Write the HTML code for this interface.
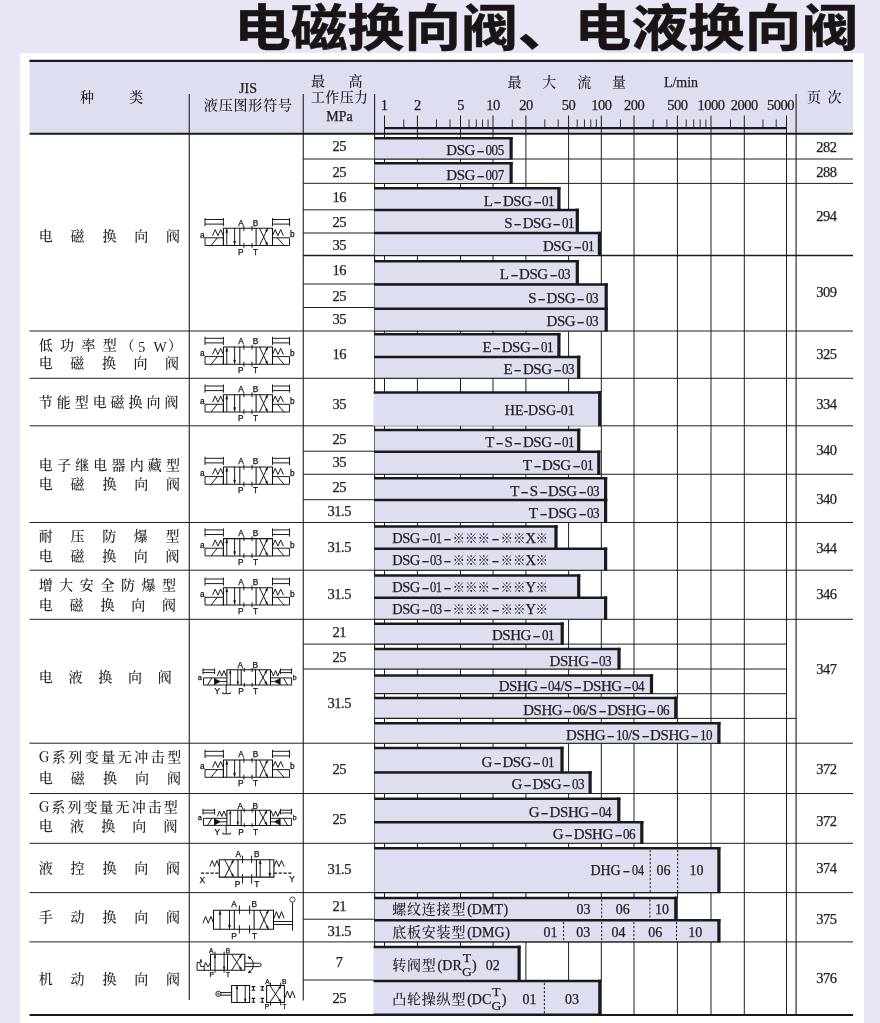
<!DOCTYPE html>
<html lang="zh-CN"><head><meta charset="utf-8"><title>电磁换向阀、电液换向阀</title>
<style>
html,body{margin:0;padding:0}
body{width:880px;height:1023px;background:#e6e6f4;position:relative;overflow:hidden;font-family:"Liberation Serif","Noto Serif CJK SC",serif;color:#222}
#panel{position:absolute;left:20px;top:53px;width:844px;height:970px;background:#fff}
#art{position:absolute;left:0;top:0}
#art text{font-family:"Liberation Sans",sans-serif;fill:#111;stroke:#111;stroke-width:0.25}
.t{position:absolute;white-space:nowrap;line-height:20px;height:20px;-webkit-text-stroke:0.25px #222}
.cj{font-family:"Noto Serif CJK SC","Liberation Serif",serif;font-weight:500;-webkit-text-stroke:0}
.cj2{font-family:"Liberation Serif","Noto Serif CJK SC",serif;letter-spacing:0}
.h{display:inline-block;transform:scaleX(1.55);margin:0 3.0px}
.d{display:inline-block;transform:scaleX(0.87)}
.st{font-family:"Noto Serif CJK SC",serif;font-size:12.5px;letter-spacing:0;margin:0;-webkit-text-stroke:0}
.pl{margin-left:1px;margin-right:0}.pr{margin-left:0.6px;margin-right:0}
.fr{display:inline-block;position:relative;width:9.5px;height:1px;vertical-align:baseline;font-size:13.5px;letter-spacing:0;margin:0 0 0 0.3px}
.fr span{position:absolute;left:0;width:100%;text-align:center;line-height:14px;height:14px}
.fr span:first-child{top:-17.9px}
.fr span:last-child{top:-3.3px}
.zh{letter-spacing:0.8px;font-weight:500;-webkit-text-stroke:0}
h1{position:absolute;left:233.5px;top:-11.3px;margin:0;font-family:"Noto Sans CJK SC","Liberation Sans",sans-serif;font-weight:700;-webkit-text-stroke:0.5px #1a1514;font-size:50px;line-height:70px;white-space:nowrap;color:#1a1514;transform-origin:0 0;transform:scaleX(1.135);letter-spacing:0}
</style></head><body>
<h1>电磁换向阀、电液换向阀</h1>
<div id="panel"></div>
<svg id="art" width="880" height="1023" viewBox="0 0 880 1023">
<rect x="29.50" y="60.50" width="823.50" height="73.30" fill="#dddef0"/>
<line x1="384.50" y1="115.50" x2="384.50" y2="1014.00" stroke="#1e1e1e" stroke-width="1" />
<line x1="417.40" y1="115.50" x2="417.40" y2="1014.00" stroke="#1e1e1e" stroke-width="1" />
<line x1="460.50" y1="115.50" x2="460.50" y2="1014.00" stroke="#1e1e1e" stroke-width="1" />
<line x1="493.00" y1="115.50" x2="493.00" y2="1014.00" stroke="#1e1e1e" stroke-width="1" />
<line x1="525.90" y1="115.50" x2="525.90" y2="1014.00" stroke="#1e1e1e" stroke-width="1" />
<line x1="568.60" y1="115.50" x2="568.60" y2="1014.00" stroke="#1e1e1e" stroke-width="1" />
<line x1="601.30" y1="115.50" x2="601.30" y2="1014.00" stroke="#1e1e1e" stroke-width="1" />
<line x1="634.00" y1="115.50" x2="634.00" y2="1014.00" stroke="#1e1e1e" stroke-width="1" />
<line x1="677.40" y1="115.50" x2="677.40" y2="1014.00" stroke="#1e1e1e" stroke-width="1" />
<line x1="711.00" y1="115.50" x2="711.00" y2="1014.00" stroke="#1e1e1e" stroke-width="1" />
<line x1="744.30" y1="115.50" x2="744.30" y2="1014.00" stroke="#1e1e1e" stroke-width="1" />
<line x1="786.50" y1="115.50" x2="786.50" y2="1014.00" stroke="#1e1e1e" stroke-width="1" />
<line x1="403.75" y1="119.50" x2="403.75" y2="128.00" stroke="#1e1e1e" stroke-width="0.9" />
<line x1="436.47" y1="119.50" x2="436.47" y2="128.00" stroke="#1e1e1e" stroke-width="0.9" />
<line x1="450.00" y1="119.50" x2="450.00" y2="128.00" stroke="#1e1e1e" stroke-width="0.9" />
<line x1="469.05" y1="119.50" x2="469.05" y2="128.00" stroke="#1e1e1e" stroke-width="0.9" />
<line x1="476.28" y1="119.50" x2="476.28" y2="128.00" stroke="#1e1e1e" stroke-width="0.9" />
<line x1="482.54" y1="119.50" x2="482.54" y2="128.00" stroke="#1e1e1e" stroke-width="0.9" />
<line x1="488.06" y1="119.50" x2="488.06" y2="128.00" stroke="#1e1e1e" stroke-width="0.9" />
<line x1="512.25" y1="119.50" x2="512.25" y2="128.00" stroke="#1e1e1e" stroke-width="0.9" />
<line x1="544.80" y1="119.50" x2="544.80" y2="128.00" stroke="#1e1e1e" stroke-width="0.9" />
<line x1="558.20" y1="119.50" x2="558.20" y2="128.00" stroke="#1e1e1e" stroke-width="0.9" />
<line x1="577.20" y1="119.50" x2="577.20" y2="128.00" stroke="#1e1e1e" stroke-width="0.9" />
<line x1="584.47" y1="119.50" x2="584.47" y2="128.00" stroke="#1e1e1e" stroke-width="0.9" />
<line x1="590.77" y1="119.50" x2="590.77" y2="128.00" stroke="#1e1e1e" stroke-width="0.9" />
<line x1="596.33" y1="119.50" x2="596.33" y2="128.00" stroke="#1e1e1e" stroke-width="0.9" />
<line x1="620.43" y1="119.50" x2="620.43" y2="128.00" stroke="#1e1e1e" stroke-width="0.9" />
<line x1="653.20" y1="119.50" x2="653.20" y2="128.00" stroke="#1e1e1e" stroke-width="0.9" />
<line x1="666.83" y1="119.50" x2="666.83" y2="128.00" stroke="#1e1e1e" stroke-width="0.9" />
<line x1="686.24" y1="119.50" x2="686.24" y2="128.00" stroke="#1e1e1e" stroke-width="0.9" />
<line x1="693.71" y1="119.50" x2="693.71" y2="128.00" stroke="#1e1e1e" stroke-width="0.9" />
<line x1="700.18" y1="119.50" x2="700.18" y2="128.00" stroke="#1e1e1e" stroke-width="0.9" />
<line x1="705.89" y1="119.50" x2="705.89" y2="128.00" stroke="#1e1e1e" stroke-width="0.9" />
<line x1="730.48" y1="119.50" x2="730.48" y2="128.00" stroke="#1e1e1e" stroke-width="0.9" />
<line x1="762.97" y1="119.50" x2="762.97" y2="128.00" stroke="#1e1e1e" stroke-width="0.9" />
<line x1="776.22" y1="119.50" x2="776.22" y2="128.00" stroke="#1e1e1e" stroke-width="0.9" />
<line x1="384.00" y1="128.10" x2="787.00" y2="128.10" stroke="#1a1a1a" stroke-width="2.2" />
<line x1="189.25" y1="94.00" x2="189.25" y2="1000.00" stroke="#1e1e1e" stroke-width="1.1" />
<line x1="303.25" y1="94.00" x2="303.25" y2="1000.50" stroke="#1e1e1e" stroke-width="1.1" />
<line x1="374.60" y1="94.00" x2="374.60" y2="960.00" stroke="#1e1e1e" stroke-width="1.1" />
<line x1="796.10" y1="94.00" x2="796.10" y2="1014.00" stroke="#1e1e1e" stroke-width="1.1" />
<line x1="29.50" y1="331.00" x2="853.00" y2="331.00" stroke="#1e1e1e" stroke-width="1" />
<line x1="29.50" y1="378.30" x2="853.00" y2="378.30" stroke="#1e1e1e" stroke-width="1" />
<line x1="29.50" y1="425.80" x2="853.00" y2="425.80" stroke="#1e1e1e" stroke-width="1" />
<line x1="29.50" y1="522.50" x2="853.00" y2="522.50" stroke="#1e1e1e" stroke-width="1" />
<line x1="29.50" y1="570.20" x2="853.00" y2="570.20" stroke="#1e1e1e" stroke-width="1" />
<line x1="29.50" y1="619.30" x2="853.00" y2="619.30" stroke="#1e1e1e" stroke-width="1" />
<line x1="29.50" y1="743.20" x2="853.00" y2="743.20" stroke="#1e1e1e" stroke-width="1" />
<line x1="29.50" y1="793.50" x2="853.00" y2="793.50" stroke="#1e1e1e" stroke-width="1" />
<line x1="29.50" y1="843.30" x2="853.00" y2="843.30" stroke="#1e1e1e" stroke-width="1" />
<line x1="29.50" y1="892.60" x2="853.00" y2="892.60" stroke="#1e1e1e" stroke-width="1" />
<line x1="29.50" y1="941.90" x2="853.00" y2="941.90" stroke="#1e1e1e" stroke-width="1" />
<line x1="303.25" y1="255.50" x2="853.00" y2="255.50" stroke="#1a1a1a" stroke-width="1.6" />
<line x1="303.25" y1="474.30" x2="853.00" y2="474.30" stroke="#1e1e1e" stroke-width="1.1" />
<line x1="303.25" y1="159.00" x2="374.60" y2="159.00" stroke="#1e1e1e" stroke-width="1" />
<line x1="303.25" y1="183.30" x2="374.60" y2="183.30" stroke="#1e1e1e" stroke-width="1" />
<line x1="303.25" y1="209.80" x2="374.60" y2="209.80" stroke="#1e1e1e" stroke-width="1" />
<line x1="303.25" y1="233.00" x2="374.60" y2="233.00" stroke="#1e1e1e" stroke-width="1" />
<line x1="303.25" y1="284.00" x2="374.60" y2="284.00" stroke="#1e1e1e" stroke-width="1" />
<line x1="303.25" y1="307.50" x2="374.60" y2="307.50" stroke="#1e1e1e" stroke-width="1" />
<line x1="303.25" y1="451.20" x2="374.60" y2="451.20" stroke="#1e1e1e" stroke-width="1" />
<line x1="303.25" y1="499.70" x2="374.60" y2="499.70" stroke="#1e1e1e" stroke-width="1" />
<line x1="303.25" y1="644.10" x2="374.60" y2="644.10" stroke="#1e1e1e" stroke-width="1" />
<line x1="303.25" y1="669.00" x2="374.60" y2="669.00" stroke="#1e1e1e" stroke-width="1" />
<line x1="303.25" y1="919.20" x2="374.60" y2="919.20" stroke="#1e1e1e" stroke-width="1" />
<line x1="303.25" y1="980.00" x2="374.60" y2="980.00" stroke="#1e1e1e" stroke-width="1" />
<line x1="374.60" y1="159.00" x2="853.00" y2="159.00" stroke="#1e1e1e" stroke-width="1" />
<line x1="374.60" y1="183.40" x2="853.00" y2="183.40" stroke="#1e1e1e" stroke-width="1" />
<line x1="374.60" y1="644.10" x2="786.50" y2="644.10" stroke="#1e1e1e" stroke-width="1" />
<line x1="374.60" y1="669.00" x2="786.50" y2="669.00" stroke="#1e1e1e" stroke-width="1" />
<line x1="374.60" y1="693.70" x2="786.50" y2="693.70" stroke="#1e1e1e" stroke-width="1" />
<line x1="374.60" y1="718.40" x2="796.10" y2="718.40" stroke="#1e1e1e" stroke-width="1" />
<rect x="374.60" y="138.20" width="138.10" height="20.80" fill="#dddef0"/>
<rect x="374.60" y="163.20" width="138.10" height="20.30" fill="#dddef0"/>
<rect x="374.60" y="188.20" width="185.90" height="21.60" fill="#dddef0"/>
<rect x="374.60" y="209.80" width="204.30" height="23.20" fill="#dddef0"/>
<rect x="374.60" y="233.00" width="226.40" height="22.50" fill="#dddef0"/>
<rect x="374.60" y="261.20" width="204.30" height="22.80" fill="#dddef0"/>
<rect x="374.60" y="284.50" width="233.20" height="24.10" fill="#dddef0"/>
<rect x="374.60" y="308.60" width="233.20" height="22.40" fill="#dddef0"/>
<rect x="374.60" y="334.10" width="185.90" height="22.70" fill="#dddef0"/>
<rect x="374.60" y="356.80" width="205.70" height="21.50" fill="#dddef0"/>
<rect x="373.60" y="392.30" width="227.70" height="33.50" fill="#dddef0"/>
<rect x="374.60" y="429.80" width="205.70" height="21.90" fill="#dddef0"/>
<rect x="374.60" y="451.70" width="225.80" height="22.60" fill="#dddef0"/>
<rect x="374.60" y="478.20" width="232.60" height="21.80" fill="#dddef0"/>
<rect x="374.60" y="500.00" width="232.60" height="22.50" fill="#dddef0"/>
<rect x="374.60" y="526.30" width="183.00" height="22.40" fill="#dddef0"/>
<rect x="374.60" y="548.70" width="232.60" height="21.50" fill="#dddef0"/>
<rect x="374.60" y="575.30" width="205.70" height="22.30" fill="#dddef0"/>
<rect x="374.60" y="597.60" width="232.60" height="21.70" fill="#dddef0"/>
<rect x="374.60" y="623.60" width="189.20" height="20.50" fill="#dddef0"/>
<rect x="374.60" y="649.00" width="246.00" height="20.00" fill="#dddef0"/>
<rect x="374.60" y="675.40" width="278.50" height="18.10" fill="#dddef0"/>
<rect x="374.60" y="697.90" width="302.80" height="20.50" fill="#dddef0"/>
<rect x="374.60" y="723.10" width="345.90" height="20.10" fill="#dddef0"/>
<rect x="374.60" y="747.90" width="189.00" height="24.40" fill="#dddef0"/>
<rect x="374.60" y="772.30" width="217.10" height="21.20" fill="#dddef0"/>
<rect x="374.60" y="798.70" width="245.80" height="23.50" fill="#dddef0"/>
<rect x="374.60" y="822.20" width="268.80" height="21.10" fill="#dddef0"/>
<rect x="374.60" y="848.20" width="345.90" height="44.40" fill="#dddef0"/>
<rect x="374.60" y="897.90" width="302.80" height="22.30" fill="#dddef0"/>
<rect x="374.60" y="920.20" width="345.90" height="21.70" fill="#dddef0"/>
<rect x="373.60" y="946.80" width="147.10" height="33.80" fill="#dddef0"/>
<rect x="373.60" y="981.00" width="227.80" height="33.00" fill="#dddef0"/>
<line x1="374.10" y1="159.00" x2="512.70" y2="159.00" stroke="#1e1e1e" stroke-width="1.1" />
<line x1="374.10" y1="138.30" x2="512.70" y2="138.30" stroke="#1a1a1a" stroke-width="2.5" />
<line x1="511.10" y1="137.00" x2="511.10" y2="159.50" stroke="#1a1a1a" stroke-width="3.2" />
<line x1="374.10" y1="183.50" x2="512.70" y2="183.50" stroke="#1e1e1e" stroke-width="1.1" />
<line x1="374.10" y1="163.30" x2="512.70" y2="163.30" stroke="#1a1a1a" stroke-width="2.5" />
<line x1="511.10" y1="162.00" x2="511.10" y2="184.00" stroke="#1a1a1a" stroke-width="3.2" />
<line x1="374.10" y1="209.80" x2="560.50" y2="209.80" stroke="#1e1e1e" stroke-width="1.1" />
<line x1="374.10" y1="188.30" x2="560.50" y2="188.30" stroke="#1a1a1a" stroke-width="2.5" />
<line x1="558.90" y1="187.00" x2="558.90" y2="210.30" stroke="#1a1a1a" stroke-width="3.2" />
<line x1="374.10" y1="233.00" x2="578.90" y2="233.00" stroke="#1e1e1e" stroke-width="1.1" />
<line x1="374.10" y1="209.90" x2="578.90" y2="209.90" stroke="#1a1a1a" stroke-width="2.5" />
<line x1="577.30" y1="208.60" x2="577.30" y2="233.50" stroke="#1a1a1a" stroke-width="3.2" />
<line x1="374.10" y1="255.50" x2="601.00" y2="255.50" stroke="#1e1e1e" stroke-width="1.1" />
<line x1="374.10" y1="233.10" x2="601.00" y2="233.10" stroke="#1a1a1a" stroke-width="2.5" />
<line x1="599.40" y1="231.80" x2="599.40" y2="256.00" stroke="#1a1a1a" stroke-width="3.2" />
<line x1="374.10" y1="284.00" x2="578.90" y2="284.00" stroke="#1e1e1e" stroke-width="1.1" />
<line x1="374.10" y1="261.30" x2="578.90" y2="261.30" stroke="#1a1a1a" stroke-width="2.5" />
<line x1="577.30" y1="260.00" x2="577.30" y2="284.50" stroke="#1a1a1a" stroke-width="3.2" />
<line x1="374.10" y1="308.60" x2="607.80" y2="308.60" stroke="#1e1e1e" stroke-width="1.1" />
<line x1="374.10" y1="284.60" x2="607.80" y2="284.60" stroke="#1a1a1a" stroke-width="2.5" />
<line x1="606.20" y1="283.30" x2="606.20" y2="309.10" stroke="#1a1a1a" stroke-width="3.2" />
<line x1="374.10" y1="331.00" x2="607.80" y2="331.00" stroke="#1e1e1e" stroke-width="1.1" />
<line x1="374.10" y1="308.70" x2="607.80" y2="308.70" stroke="#1a1a1a" stroke-width="2.5" />
<line x1="606.20" y1="307.40" x2="606.20" y2="331.50" stroke="#1a1a1a" stroke-width="3.2" />
<line x1="374.10" y1="356.80" x2="560.50" y2="356.80" stroke="#1e1e1e" stroke-width="1.1" />
<line x1="374.10" y1="334.20" x2="560.50" y2="334.20" stroke="#1a1a1a" stroke-width="2.5" />
<line x1="558.90" y1="332.90" x2="558.90" y2="357.30" stroke="#1a1a1a" stroke-width="3.2" />
<line x1="374.10" y1="378.30" x2="580.30" y2="378.30" stroke="#1e1e1e" stroke-width="1.1" />
<line x1="374.10" y1="356.90" x2="580.30" y2="356.90" stroke="#1a1a1a" stroke-width="2.5" />
<line x1="578.70" y1="355.60" x2="578.70" y2="378.80" stroke="#1a1a1a" stroke-width="3.2" />
<line x1="373.60" y1="392.40" x2="601.30" y2="392.40" stroke="#1a1a1a" stroke-width="2.5" />
<line x1="599.70" y1="391.10" x2="599.70" y2="426.30" stroke="#1a1a1a" stroke-width="3.2" />
<line x1="374.10" y1="451.70" x2="580.30" y2="451.70" stroke="#1e1e1e" stroke-width="1.1" />
<line x1="374.10" y1="429.90" x2="580.30" y2="429.90" stroke="#1a1a1a" stroke-width="2.5" />
<line x1="578.70" y1="428.60" x2="578.70" y2="452.20" stroke="#1a1a1a" stroke-width="3.2" />
<line x1="374.10" y1="474.30" x2="600.40" y2="474.30" stroke="#1e1e1e" stroke-width="1.1" />
<line x1="374.10" y1="451.80" x2="600.40" y2="451.80" stroke="#1a1a1a" stroke-width="2.5" />
<line x1="598.80" y1="450.50" x2="598.80" y2="474.80" stroke="#1a1a1a" stroke-width="3.2" />
<line x1="374.10" y1="500.00" x2="607.20" y2="500.00" stroke="#1e1e1e" stroke-width="1.1" />
<line x1="374.10" y1="478.30" x2="607.20" y2="478.30" stroke="#1a1a1a" stroke-width="2.5" />
<line x1="605.60" y1="477.00" x2="605.60" y2="500.50" stroke="#1a1a1a" stroke-width="3.2" />
<line x1="374.10" y1="522.50" x2="607.20" y2="522.50" stroke="#1e1e1e" stroke-width="1.1" />
<line x1="374.10" y1="500.10" x2="607.20" y2="500.10" stroke="#1a1a1a" stroke-width="2.5" />
<line x1="605.60" y1="498.80" x2="605.60" y2="523.00" stroke="#1a1a1a" stroke-width="3.2" />
<line x1="374.10" y1="548.70" x2="557.60" y2="548.70" stroke="#1e1e1e" stroke-width="1.1" />
<line x1="374.10" y1="526.40" x2="557.60" y2="526.40" stroke="#1a1a1a" stroke-width="2.5" />
<line x1="556.00" y1="525.10" x2="556.00" y2="549.20" stroke="#1a1a1a" stroke-width="3.2" />
<line x1="374.10" y1="570.20" x2="607.20" y2="570.20" stroke="#1e1e1e" stroke-width="1.1" />
<line x1="374.10" y1="548.80" x2="607.20" y2="548.80" stroke="#1a1a1a" stroke-width="2.5" />
<line x1="605.60" y1="547.50" x2="605.60" y2="570.70" stroke="#1a1a1a" stroke-width="3.2" />
<line x1="374.10" y1="597.60" x2="580.30" y2="597.60" stroke="#1e1e1e" stroke-width="1.1" />
<line x1="374.10" y1="575.40" x2="580.30" y2="575.40" stroke="#1a1a1a" stroke-width="2.5" />
<line x1="578.70" y1="574.10" x2="578.70" y2="598.10" stroke="#1a1a1a" stroke-width="3.2" />
<line x1="374.10" y1="619.30" x2="607.20" y2="619.30" stroke="#1e1e1e" stroke-width="1.1" />
<line x1="374.10" y1="597.70" x2="607.20" y2="597.70" stroke="#1a1a1a" stroke-width="2.5" />
<line x1="605.60" y1="596.40" x2="605.60" y2="619.80" stroke="#1a1a1a" stroke-width="3.2" />
<line x1="374.10" y1="644.10" x2="563.80" y2="644.10" stroke="#1e1e1e" stroke-width="1.1" />
<line x1="374.10" y1="623.70" x2="563.80" y2="623.70" stroke="#1a1a1a" stroke-width="2.5" />
<line x1="562.20" y1="622.40" x2="562.20" y2="644.60" stroke="#1a1a1a" stroke-width="3.2" />
<line x1="374.10" y1="669.00" x2="620.60" y2="669.00" stroke="#1e1e1e" stroke-width="1.1" />
<line x1="374.10" y1="649.10" x2="620.60" y2="649.10" stroke="#1a1a1a" stroke-width="2.5" />
<line x1="619.00" y1="647.80" x2="619.00" y2="669.50" stroke="#1a1a1a" stroke-width="3.2" />
<line x1="374.10" y1="693.50" x2="653.10" y2="693.50" stroke="#1e1e1e" stroke-width="1.1" />
<line x1="374.10" y1="675.50" x2="653.10" y2="675.50" stroke="#1a1a1a" stroke-width="2.5" />
<line x1="651.50" y1="674.20" x2="651.50" y2="694.00" stroke="#1a1a1a" stroke-width="3.2" />
<line x1="374.10" y1="718.40" x2="677.40" y2="718.40" stroke="#1e1e1e" stroke-width="1.1" />
<line x1="374.10" y1="698.00" x2="677.40" y2="698.00" stroke="#1a1a1a" stroke-width="2.5" />
<line x1="675.80" y1="696.70" x2="675.80" y2="718.90" stroke="#1a1a1a" stroke-width="3.2" />
<line x1="374.10" y1="743.20" x2="720.50" y2="743.20" stroke="#1e1e1e" stroke-width="1.1" />
<line x1="374.10" y1="723.20" x2="720.50" y2="723.20" stroke="#1a1a1a" stroke-width="2.5" />
<line x1="718.90" y1="721.90" x2="718.90" y2="743.70" stroke="#1a1a1a" stroke-width="3.2" />
<line x1="374.10" y1="772.30" x2="563.60" y2="772.30" stroke="#1e1e1e" stroke-width="1.1" />
<line x1="374.10" y1="748.00" x2="563.60" y2="748.00" stroke="#1a1a1a" stroke-width="2.5" />
<line x1="562.00" y1="746.70" x2="562.00" y2="772.80" stroke="#1a1a1a" stroke-width="3.2" />
<line x1="374.10" y1="793.50" x2="591.70" y2="793.50" stroke="#1e1e1e" stroke-width="1.1" />
<line x1="374.10" y1="772.40" x2="591.70" y2="772.40" stroke="#1a1a1a" stroke-width="2.5" />
<line x1="590.10" y1="771.10" x2="590.10" y2="794.00" stroke="#1a1a1a" stroke-width="3.2" />
<line x1="374.10" y1="822.20" x2="620.40" y2="822.20" stroke="#1e1e1e" stroke-width="1.1" />
<line x1="374.10" y1="798.80" x2="620.40" y2="798.80" stroke="#1a1a1a" stroke-width="2.5" />
<line x1="618.80" y1="797.50" x2="618.80" y2="822.70" stroke="#1a1a1a" stroke-width="3.2" />
<line x1="374.10" y1="843.30" x2="643.40" y2="843.30" stroke="#1e1e1e" stroke-width="1.1" />
<line x1="374.10" y1="822.30" x2="643.40" y2="822.30" stroke="#1a1a1a" stroke-width="2.5" />
<line x1="641.80" y1="821.00" x2="641.80" y2="843.80" stroke="#1a1a1a" stroke-width="3.2" />
<line x1="374.10" y1="892.60" x2="720.50" y2="892.60" stroke="#1e1e1e" stroke-width="1.1" />
<line x1="374.10" y1="848.30" x2="720.50" y2="848.30" stroke="#1a1a1a" stroke-width="2.5" />
<line x1="718.90" y1="847.00" x2="718.90" y2="893.10" stroke="#1a1a1a" stroke-width="3.2" />
<line x1="374.10" y1="920.20" x2="677.40" y2="920.20" stroke="#1e1e1e" stroke-width="1.1" />
<line x1="374.10" y1="898.00" x2="677.40" y2="898.00" stroke="#1a1a1a" stroke-width="2.5" />
<line x1="675.80" y1="896.70" x2="675.80" y2="920.70" stroke="#1a1a1a" stroke-width="3.2" />
<line x1="374.10" y1="941.90" x2="720.50" y2="941.90" stroke="#1e1e1e" stroke-width="1.1" />
<line x1="374.10" y1="920.30" x2="720.50" y2="920.30" stroke="#1a1a1a" stroke-width="2.5" />
<line x1="718.90" y1="919.00" x2="718.90" y2="942.40" stroke="#1a1a1a" stroke-width="3.2" />
<line x1="373.60" y1="980.60" x2="520.70" y2="980.60" stroke="#1e1e1e" stroke-width="1.1" />
<line x1="373.60" y1="946.90" x2="520.70" y2="946.90" stroke="#1a1a1a" stroke-width="2.5" />
<line x1="519.10" y1="945.60" x2="519.10" y2="981.10" stroke="#1a1a1a" stroke-width="3.2" />
<line x1="373.60" y1="1014.00" x2="601.40" y2="1014.00" stroke="#1e1e1e" stroke-width="1.1" />
<line x1="373.60" y1="981.10" x2="601.40" y2="981.10" stroke="#1a1a1a" stroke-width="2.5" />
<line x1="599.80" y1="979.80" x2="599.80" y2="1014.50" stroke="#1a1a1a" stroke-width="3.2" />
<line x1="650.20" y1="850.00" x2="650.20" y2="892.00" stroke="#1a1a1a" stroke-width="1" stroke-dasharray="2.2 1.8"/>
<line x1="677.70" y1="850.00" x2="677.70" y2="892.00" stroke="#1a1a1a" stroke-width="1" stroke-dasharray="2.2 1.8"/>
<line x1="601.70" y1="899.50" x2="601.70" y2="919.00" stroke="#1a1a1a" stroke-width="1" stroke-dasharray="2.2 1.8"/>
<line x1="649.90" y1="899.50" x2="649.90" y2="919.00" stroke="#1a1a1a" stroke-width="1" stroke-dasharray="2.2 1.8"/>
<line x1="563.60" y1="922.00" x2="563.60" y2="941.50" stroke="#1a1a1a" stroke-width="1" stroke-dasharray="2.2 1.8"/>
<line x1="601.70" y1="922.00" x2="601.70" y2="941.50" stroke="#1a1a1a" stroke-width="1" stroke-dasharray="2.2 1.8"/>
<line x1="633.90" y1="922.00" x2="633.90" y2="941.50" stroke="#1a1a1a" stroke-width="1" stroke-dasharray="2.2 1.8"/>
<line x1="676.50" y1="922.00" x2="676.50" y2="941.50" stroke="#1a1a1a" stroke-width="1" stroke-dasharray="2.2 1.8"/>
<line x1="544.40" y1="983.00" x2="544.40" y2="1013.50" stroke="#1a1a1a" stroke-width="1" stroke-dasharray="2.2 1.8"/>
<line x1="29.50" y1="60.90" x2="853.00" y2="60.90" stroke="#1a1a1a" stroke-width="2.4" />
<line x1="29.50" y1="133.80" x2="853.00" y2="133.80" stroke="#1a1a1a" stroke-width="2" />
<line x1="29.50" y1="1015.00" x2="853.00" y2="1015.00" stroke="#1a1a1a" stroke-width="2.2" />
<g>
<path d="M205.00 218.00V226.20M223.40 218.00V226.20M205.00 219.50H223.40M205.00 224.10H223.40" fill="none" stroke="#111" stroke-width="0.95" stroke-linejoin="miter"/>
<path d="M272.50 218.00V226.20M289.50 218.00V226.20M272.50 219.50H289.50M272.50 224.10H289.50" fill="none" stroke="#111" stroke-width="0.95" stroke-linejoin="miter"/>
<path d="M223.40 228.20H272.50V245.50H223.40z" fill="none" stroke="#111" stroke-width="1.05" stroke-linejoin="miter"/>
<path d="M239.80 228.20V245.50M256.10 228.20V245.50" fill="none" stroke="#111" stroke-width="1.05" stroke-linejoin="miter"/>
<path d="M226.80 245.50V229.00" fill="none" stroke="#111" stroke-width="0.95" stroke-linejoin="miter"/>
<path d="M226.80 229.00l-1.15 3.60h2.30z" fill="#111" stroke="#111" stroke-width="0.3" stroke-linejoin="miter"/>
<path d="M234.60 228.20V244.70" fill="none" stroke="#111" stroke-width="0.95" stroke-linejoin="miter"/>
<path d="M234.60 244.70l-1.15 -3.60h2.30z" fill="#111" stroke="#111" stroke-width="0.3" stroke-linejoin="miter"/>
<path d="M243.90 226.00V230.80M243.90 242.90V247.70" fill="none" stroke="#111" stroke-width="0.95" stroke-linejoin="miter"/>
<path d="M252.00 226.00V230.80M252.00 242.90V247.70" fill="none" stroke="#111" stroke-width="0.95" stroke-linejoin="miter"/>
<path d="M259.50 245.50L267.70 228.20M259.50 228.20L267.70 245.50" fill="none" stroke="#111" stroke-width="0.95" stroke-linejoin="miter"/>
<path d="M267.70 228.20L265.29 230.82L267.19 231.72z" fill="#111" stroke="#111" stroke-width="0.3" stroke-linejoin="miter"/>
<path d="M267.70 245.50L267.19 241.98L265.29 242.88z" fill="#111" stroke="#111" stroke-width="0.3" stroke-linejoin="miter"/>
<path d="M205.00 237.80H223.40V245.50H205.00z M211.10 245.50L217.30 237.80" fill="none" stroke="#111" stroke-width="0.95" stroke-linejoin="miter"/>
<path d="M272.50 237.80H289.50V245.50H272.50z M277.30 237.80L284.10 245.50" fill="none" stroke="#111" stroke-width="0.95" stroke-linejoin="miter"/>
<path d="M212.50 235.70L215.22 229.60L217.95 235.70L220.68 229.60L223.40 235.70" fill="none" stroke="#111" stroke-width="0.95" stroke-linejoin="miter"/>
<path d="M272.50 235.70L275.23 229.60L277.95 235.70L280.67 229.60L283.40 235.70" fill="none" stroke="#111" stroke-width="0.95" stroke-linejoin="miter"/>
<text x="202.3" y="234.6" font-size="8.3" text-anchor="middle" dominant-baseline="central">a</text>
<text x="292.3" y="234.2" font-size="8.3" text-anchor="middle" dominant-baseline="central">b</text>
<text x="241.0" y="222.6" font-size="8.3" text-anchor="middle" dominant-baseline="central">A</text>
<text x="255.4" y="222.6" font-size="8.3" text-anchor="middle" dominant-baseline="central">B</text>
<text x="240.7" y="251.6" font-size="8.3" text-anchor="middle" dominant-baseline="central">P</text>
<text x="255.5" y="251.6" font-size="8.3" text-anchor="middle" dominant-baseline="central">T</text>
<path d="M205.00 336.80V345.00M223.40 336.80V345.00M205.00 338.30H223.40M205.00 342.90H223.40" fill="none" stroke="#111" stroke-width="0.95" stroke-linejoin="miter"/>
<path d="M272.50 336.80V345.00M289.50 336.80V345.00M272.50 338.30H289.50M272.50 342.90H289.50" fill="none" stroke="#111" stroke-width="0.95" stroke-linejoin="miter"/>
<path d="M223.40 347.00H272.50V364.30H223.40z" fill="none" stroke="#111" stroke-width="1.05" stroke-linejoin="miter"/>
<path d="M239.80 347.00V364.30M256.10 347.00V364.30" fill="none" stroke="#111" stroke-width="1.05" stroke-linejoin="miter"/>
<path d="M226.80 364.30V347.80" fill="none" stroke="#111" stroke-width="0.95" stroke-linejoin="miter"/>
<path d="M226.80 347.80l-1.15 3.60h2.30z" fill="#111" stroke="#111" stroke-width="0.3" stroke-linejoin="miter"/>
<path d="M234.60 347.00V363.50" fill="none" stroke="#111" stroke-width="0.95" stroke-linejoin="miter"/>
<path d="M234.60 363.50l-1.15 -3.60h2.30z" fill="#111" stroke="#111" stroke-width="0.3" stroke-linejoin="miter"/>
<path d="M243.90 344.80V349.60M243.90 361.70V366.50" fill="none" stroke="#111" stroke-width="0.95" stroke-linejoin="miter"/>
<path d="M252.00 344.80V349.60M252.00 361.70V366.50" fill="none" stroke="#111" stroke-width="0.95" stroke-linejoin="miter"/>
<path d="M259.50 364.30L267.70 347.00M259.50 347.00L267.70 364.30" fill="none" stroke="#111" stroke-width="0.95" stroke-linejoin="miter"/>
<path d="M267.70 347.00L265.29 349.62L267.19 350.52z" fill="#111" stroke="#111" stroke-width="0.3" stroke-linejoin="miter"/>
<path d="M267.70 364.30L267.19 360.78L265.29 361.68z" fill="#111" stroke="#111" stroke-width="0.3" stroke-linejoin="miter"/>
<path d="M205.00 356.60H223.40V364.30H205.00z M211.10 364.30L217.30 356.60" fill="none" stroke="#111" stroke-width="0.95" stroke-linejoin="miter"/>
<path d="M272.50 356.60H289.50V364.30H272.50z M277.30 356.60L284.10 364.30" fill="none" stroke="#111" stroke-width="0.95" stroke-linejoin="miter"/>
<path d="M212.50 354.50L215.22 348.40L217.95 354.50L220.68 348.40L223.40 354.50" fill="none" stroke="#111" stroke-width="0.95" stroke-linejoin="miter"/>
<path d="M272.50 354.50L275.23 348.40L277.95 354.50L280.67 348.40L283.40 354.50" fill="none" stroke="#111" stroke-width="0.95" stroke-linejoin="miter"/>
<text x="202.3" y="353.4" font-size="8.3" text-anchor="middle" dominant-baseline="central">a</text>
<text x="292.3" y="353.0" font-size="8.3" text-anchor="middle" dominant-baseline="central">b</text>
<text x="241.0" y="341.4" font-size="8.3" text-anchor="middle" dominant-baseline="central">A</text>
<text x="255.4" y="341.4" font-size="8.3" text-anchor="middle" dominant-baseline="central">B</text>
<text x="240.7" y="370.4" font-size="8.3" text-anchor="middle" dominant-baseline="central">P</text>
<text x="255.5" y="370.4" font-size="8.3" text-anchor="middle" dominant-baseline="central">T</text>
<path d="M205.00 384.50V392.70M223.40 384.50V392.70M205.00 386.00H223.40M205.00 390.60H223.40" fill="none" stroke="#111" stroke-width="0.95" stroke-linejoin="miter"/>
<path d="M272.50 384.50V392.70M289.50 384.50V392.70M272.50 386.00H289.50M272.50 390.60H289.50" fill="none" stroke="#111" stroke-width="0.95" stroke-linejoin="miter"/>
<path d="M223.40 394.70H272.50V412.00H223.40z" fill="none" stroke="#111" stroke-width="1.05" stroke-linejoin="miter"/>
<path d="M239.80 394.70V412.00M256.10 394.70V412.00" fill="none" stroke="#111" stroke-width="1.05" stroke-linejoin="miter"/>
<path d="M226.80 412.00V395.50" fill="none" stroke="#111" stroke-width="0.95" stroke-linejoin="miter"/>
<path d="M226.80 395.50l-1.15 3.60h2.30z" fill="#111" stroke="#111" stroke-width="0.3" stroke-linejoin="miter"/>
<path d="M234.60 394.70V411.20" fill="none" stroke="#111" stroke-width="0.95" stroke-linejoin="miter"/>
<path d="M234.60 411.20l-1.15 -3.60h2.30z" fill="#111" stroke="#111" stroke-width="0.3" stroke-linejoin="miter"/>
<path d="M243.90 392.50V397.30M243.90 409.40V414.20" fill="none" stroke="#111" stroke-width="0.95" stroke-linejoin="miter"/>
<path d="M252.00 392.50V397.30M252.00 409.40V414.20" fill="none" stroke="#111" stroke-width="0.95" stroke-linejoin="miter"/>
<path d="M259.50 412.00L267.70 394.70M259.50 394.70L267.70 412.00" fill="none" stroke="#111" stroke-width="0.95" stroke-linejoin="miter"/>
<path d="M267.70 394.70L265.29 397.32L267.19 398.22z" fill="#111" stroke="#111" stroke-width="0.3" stroke-linejoin="miter"/>
<path d="M267.70 412.00L267.19 408.48L265.29 409.38z" fill="#111" stroke="#111" stroke-width="0.3" stroke-linejoin="miter"/>
<path d="M205.00 404.30H223.40V412.00H205.00z M211.10 412.00L217.30 404.30" fill="none" stroke="#111" stroke-width="0.95" stroke-linejoin="miter"/>
<path d="M272.50 404.30H289.50V412.00H272.50z M277.30 404.30L284.10 412.00" fill="none" stroke="#111" stroke-width="0.95" stroke-linejoin="miter"/>
<path d="M212.50 402.20L215.22 396.10L217.95 402.20L220.68 396.10L223.40 402.20" fill="none" stroke="#111" stroke-width="0.95" stroke-linejoin="miter"/>
<path d="M272.50 402.20L275.23 396.10L277.95 402.20L280.67 396.10L283.40 402.20" fill="none" stroke="#111" stroke-width="0.95" stroke-linejoin="miter"/>
<text x="202.3" y="401.1" font-size="8.3" text-anchor="middle" dominant-baseline="central">a</text>
<text x="292.3" y="400.7" font-size="8.3" text-anchor="middle" dominant-baseline="central">b</text>
<text x="241.0" y="389.1" font-size="8.3" text-anchor="middle" dominant-baseline="central">A</text>
<text x="255.4" y="389.1" font-size="8.3" text-anchor="middle" dominant-baseline="central">B</text>
<text x="240.7" y="418.1" font-size="8.3" text-anchor="middle" dominant-baseline="central">P</text>
<text x="255.5" y="418.1" font-size="8.3" text-anchor="middle" dominant-baseline="central">T</text>
<path d="M205.00 456.80V465.00M223.40 456.80V465.00M205.00 458.30H223.40M205.00 462.90H223.40" fill="none" stroke="#111" stroke-width="0.95" stroke-linejoin="miter"/>
<path d="M272.50 456.80V465.00M289.50 456.80V465.00M272.50 458.30H289.50M272.50 462.90H289.50" fill="none" stroke="#111" stroke-width="0.95" stroke-linejoin="miter"/>
<path d="M223.40 467.00H272.50V484.30H223.40z" fill="none" stroke="#111" stroke-width="1.05" stroke-linejoin="miter"/>
<path d="M239.80 467.00V484.30M256.10 467.00V484.30" fill="none" stroke="#111" stroke-width="1.05" stroke-linejoin="miter"/>
<path d="M226.80 484.30V467.80" fill="none" stroke="#111" stroke-width="0.95" stroke-linejoin="miter"/>
<path d="M226.80 467.80l-1.15 3.60h2.30z" fill="#111" stroke="#111" stroke-width="0.3" stroke-linejoin="miter"/>
<path d="M234.60 467.00V483.50" fill="none" stroke="#111" stroke-width="0.95" stroke-linejoin="miter"/>
<path d="M234.60 483.50l-1.15 -3.60h2.30z" fill="#111" stroke="#111" stroke-width="0.3" stroke-linejoin="miter"/>
<path d="M243.90 464.80V469.60M243.90 481.70V486.50" fill="none" stroke="#111" stroke-width="0.95" stroke-linejoin="miter"/>
<path d="M252.00 464.80V469.60M252.00 481.70V486.50" fill="none" stroke="#111" stroke-width="0.95" stroke-linejoin="miter"/>
<path d="M259.50 484.30L267.70 467.00M259.50 467.00L267.70 484.30" fill="none" stroke="#111" stroke-width="0.95" stroke-linejoin="miter"/>
<path d="M267.70 467.00L265.29 469.62L267.19 470.52z" fill="#111" stroke="#111" stroke-width="0.3" stroke-linejoin="miter"/>
<path d="M267.70 484.30L267.19 480.78L265.29 481.68z" fill="#111" stroke="#111" stroke-width="0.3" stroke-linejoin="miter"/>
<path d="M205.00 476.60H223.40V484.30H205.00z M211.10 484.30L217.30 476.60" fill="none" stroke="#111" stroke-width="0.95" stroke-linejoin="miter"/>
<path d="M272.50 476.60H289.50V484.30H272.50z M277.30 476.60L284.10 484.30" fill="none" stroke="#111" stroke-width="0.95" stroke-linejoin="miter"/>
<path d="M212.50 474.50L215.22 468.40L217.95 474.50L220.68 468.40L223.40 474.50" fill="none" stroke="#111" stroke-width="0.95" stroke-linejoin="miter"/>
<path d="M272.50 474.50L275.23 468.40L277.95 474.50L280.67 468.40L283.40 474.50" fill="none" stroke="#111" stroke-width="0.95" stroke-linejoin="miter"/>
<text x="202.3" y="473.4" font-size="8.3" text-anchor="middle" dominant-baseline="central">a</text>
<text x="292.3" y="473.0" font-size="8.3" text-anchor="middle" dominant-baseline="central">b</text>
<text x="241.0" y="461.4" font-size="8.3" text-anchor="middle" dominant-baseline="central">A</text>
<text x="255.4" y="461.4" font-size="8.3" text-anchor="middle" dominant-baseline="central">B</text>
<text x="240.7" y="490.4" font-size="8.3" text-anchor="middle" dominant-baseline="central">P</text>
<text x="255.5" y="490.4" font-size="8.3" text-anchor="middle" dominant-baseline="central">T</text>
<path d="M205.00 528.40V536.60M223.40 528.40V536.60M205.00 529.90H223.40M205.00 534.50H223.40" fill="none" stroke="#111" stroke-width="0.95" stroke-linejoin="miter"/>
<path d="M272.50 528.40V536.60M289.50 528.40V536.60M272.50 529.90H289.50M272.50 534.50H289.50" fill="none" stroke="#111" stroke-width="0.95" stroke-linejoin="miter"/>
<path d="M223.40 538.60H272.50V555.90H223.40z" fill="none" stroke="#111" stroke-width="1.05" stroke-linejoin="miter"/>
<path d="M239.80 538.60V555.90M256.10 538.60V555.90" fill="none" stroke="#111" stroke-width="1.05" stroke-linejoin="miter"/>
<path d="M226.80 555.90V539.40" fill="none" stroke="#111" stroke-width="0.95" stroke-linejoin="miter"/>
<path d="M226.80 539.40l-1.15 3.60h2.30z" fill="#111" stroke="#111" stroke-width="0.3" stroke-linejoin="miter"/>
<path d="M234.60 538.60V555.10" fill="none" stroke="#111" stroke-width="0.95" stroke-linejoin="miter"/>
<path d="M234.60 555.10l-1.15 -3.60h2.30z" fill="#111" stroke="#111" stroke-width="0.3" stroke-linejoin="miter"/>
<path d="M243.90 536.40V541.20M243.90 553.30V558.10" fill="none" stroke="#111" stroke-width="0.95" stroke-linejoin="miter"/>
<path d="M252.00 536.40V541.20M252.00 553.30V558.10" fill="none" stroke="#111" stroke-width="0.95" stroke-linejoin="miter"/>
<path d="M259.50 555.90L267.70 538.60M259.50 538.60L267.70 555.90" fill="none" stroke="#111" stroke-width="0.95" stroke-linejoin="miter"/>
<path d="M267.70 538.60L265.29 541.22L267.19 542.12z" fill="#111" stroke="#111" stroke-width="0.3" stroke-linejoin="miter"/>
<path d="M267.70 555.90L267.19 552.38L265.29 553.28z" fill="#111" stroke="#111" stroke-width="0.3" stroke-linejoin="miter"/>
<path d="M205.00 548.20H223.40V555.90H205.00z M211.10 555.90L217.30 548.20" fill="none" stroke="#111" stroke-width="0.95" stroke-linejoin="miter"/>
<path d="M272.50 548.20H289.50V555.90H272.50z M277.30 548.20L284.10 555.90" fill="none" stroke="#111" stroke-width="0.95" stroke-linejoin="miter"/>
<path d="M212.50 546.10L215.22 540.00L217.95 546.10L220.68 540.00L223.40 546.10" fill="none" stroke="#111" stroke-width="0.95" stroke-linejoin="miter"/>
<path d="M272.50 546.10L275.23 540.00L277.95 546.10L280.67 540.00L283.40 546.10" fill="none" stroke="#111" stroke-width="0.95" stroke-linejoin="miter"/>
<text x="202.3" y="545.0" font-size="8.3" text-anchor="middle" dominant-baseline="central">a</text>
<text x="292.3" y="544.6" font-size="8.3" text-anchor="middle" dominant-baseline="central">b</text>
<text x="241.0" y="533.0" font-size="8.3" text-anchor="middle" dominant-baseline="central">A</text>
<text x="255.4" y="533.0" font-size="8.3" text-anchor="middle" dominant-baseline="central">B</text>
<text x="240.7" y="562.0" font-size="8.3" text-anchor="middle" dominant-baseline="central">P</text>
<text x="255.5" y="562.0" font-size="8.3" text-anchor="middle" dominant-baseline="central">T</text>
<path d="M205.00 577.50V585.70M223.40 577.50V585.70M205.00 579.00H223.40M205.00 583.60H223.40" fill="none" stroke="#111" stroke-width="0.95" stroke-linejoin="miter"/>
<path d="M272.50 577.50V585.70M289.50 577.50V585.70M272.50 579.00H289.50M272.50 583.60H289.50" fill="none" stroke="#111" stroke-width="0.95" stroke-linejoin="miter"/>
<path d="M223.40 587.70H272.50V605.00H223.40z" fill="none" stroke="#111" stroke-width="1.05" stroke-linejoin="miter"/>
<path d="M239.80 587.70V605.00M256.10 587.70V605.00" fill="none" stroke="#111" stroke-width="1.05" stroke-linejoin="miter"/>
<path d="M226.80 605.00V588.50" fill="none" stroke="#111" stroke-width="0.95" stroke-linejoin="miter"/>
<path d="M226.80 588.50l-1.15 3.60h2.30z" fill="#111" stroke="#111" stroke-width="0.3" stroke-linejoin="miter"/>
<path d="M234.60 587.70V604.20" fill="none" stroke="#111" stroke-width="0.95" stroke-linejoin="miter"/>
<path d="M234.60 604.20l-1.15 -3.60h2.30z" fill="#111" stroke="#111" stroke-width="0.3" stroke-linejoin="miter"/>
<path d="M243.90 585.50V590.30M243.90 602.40V607.20" fill="none" stroke="#111" stroke-width="0.95" stroke-linejoin="miter"/>
<path d="M252.00 585.50V590.30M252.00 602.40V607.20" fill="none" stroke="#111" stroke-width="0.95" stroke-linejoin="miter"/>
<path d="M259.50 605.00L267.70 587.70M259.50 587.70L267.70 605.00" fill="none" stroke="#111" stroke-width="0.95" stroke-linejoin="miter"/>
<path d="M267.70 587.70L265.29 590.32L267.19 591.22z" fill="#111" stroke="#111" stroke-width="0.3" stroke-linejoin="miter"/>
<path d="M267.70 605.00L267.19 601.48L265.29 602.38z" fill="#111" stroke="#111" stroke-width="0.3" stroke-linejoin="miter"/>
<path d="M205.00 597.30H223.40V605.00H205.00z M211.10 605.00L217.30 597.30" fill="none" stroke="#111" stroke-width="0.95" stroke-linejoin="miter"/>
<path d="M272.50 597.30H289.50V605.00H272.50z M277.30 597.30L284.10 605.00" fill="none" stroke="#111" stroke-width="0.95" stroke-linejoin="miter"/>
<path d="M212.50 595.20L215.22 589.10L217.95 595.20L220.68 589.10L223.40 595.20" fill="none" stroke="#111" stroke-width="0.95" stroke-linejoin="miter"/>
<path d="M272.50 595.20L275.23 589.10L277.95 595.20L280.67 589.10L283.40 595.20" fill="none" stroke="#111" stroke-width="0.95" stroke-linejoin="miter"/>
<text x="202.3" y="594.1" font-size="8.3" text-anchor="middle" dominant-baseline="central">a</text>
<text x="292.3" y="593.7" font-size="8.3" text-anchor="middle" dominant-baseline="central">b</text>
<text x="241.0" y="582.1" font-size="8.3" text-anchor="middle" dominant-baseline="central">A</text>
<text x="255.4" y="582.1" font-size="8.3" text-anchor="middle" dominant-baseline="central">B</text>
<text x="240.7" y="611.1" font-size="8.3" text-anchor="middle" dominant-baseline="central">P</text>
<text x="255.5" y="611.1" font-size="8.3" text-anchor="middle" dominant-baseline="central">T</text>
<path d="M205.00 749.80V758.00M223.40 749.80V758.00M205.00 751.30H223.40M205.00 755.90H223.40" fill="none" stroke="#111" stroke-width="0.95" stroke-linejoin="miter"/>
<path d="M272.50 749.80V758.00M289.50 749.80V758.00M272.50 751.30H289.50M272.50 755.90H289.50" fill="none" stroke="#111" stroke-width="0.95" stroke-linejoin="miter"/>
<path d="M223.40 760.00H272.50V777.30H223.40z" fill="none" stroke="#111" stroke-width="1.05" stroke-linejoin="miter"/>
<path d="M239.80 760.00V777.30M256.10 760.00V777.30" fill="none" stroke="#111" stroke-width="1.05" stroke-linejoin="miter"/>
<path d="M226.80 777.30V760.80" fill="none" stroke="#111" stroke-width="0.95" stroke-linejoin="miter"/>
<path d="M226.80 760.80l-1.15 3.60h2.30z" fill="#111" stroke="#111" stroke-width="0.3" stroke-linejoin="miter"/>
<path d="M234.60 760.00V776.50" fill="none" stroke="#111" stroke-width="0.95" stroke-linejoin="miter"/>
<path d="M234.60 776.50l-1.15 -3.60h2.30z" fill="#111" stroke="#111" stroke-width="0.3" stroke-linejoin="miter"/>
<path d="M243.90 757.80V762.60M243.90 774.70V779.50" fill="none" stroke="#111" stroke-width="0.95" stroke-linejoin="miter"/>
<path d="M252.00 757.80V762.60M252.00 774.70V779.50" fill="none" stroke="#111" stroke-width="0.95" stroke-linejoin="miter"/>
<path d="M259.50 777.30L267.70 760.00M259.50 760.00L267.70 777.30" fill="none" stroke="#111" stroke-width="0.95" stroke-linejoin="miter"/>
<path d="M267.70 760.00L265.29 762.62L267.19 763.52z" fill="#111" stroke="#111" stroke-width="0.3" stroke-linejoin="miter"/>
<path d="M267.70 777.30L267.19 773.78L265.29 774.68z" fill="#111" stroke="#111" stroke-width="0.3" stroke-linejoin="miter"/>
<path d="M205.00 769.60H223.40V777.30H205.00z M211.10 777.30L217.30 769.60" fill="none" stroke="#111" stroke-width="0.95" stroke-linejoin="miter"/>
<path d="M272.50 769.60H289.50V777.30H272.50z M277.30 769.60L284.10 777.30" fill="none" stroke="#111" stroke-width="0.95" stroke-linejoin="miter"/>
<path d="M212.50 767.50L215.22 761.40L217.95 767.50L220.68 761.40L223.40 767.50" fill="none" stroke="#111" stroke-width="0.95" stroke-linejoin="miter"/>
<path d="M272.50 767.50L275.23 761.40L277.95 767.50L280.67 761.40L283.40 767.50" fill="none" stroke="#111" stroke-width="0.95" stroke-linejoin="miter"/>
<text x="202.3" y="766.4" font-size="8.3" text-anchor="middle" dominant-baseline="central">a</text>
<text x="292.3" y="766.0" font-size="8.3" text-anchor="middle" dominant-baseline="central">b</text>
<text x="241.0" y="754.4" font-size="8.3" text-anchor="middle" dominant-baseline="central">A</text>
<text x="255.4" y="754.4" font-size="8.3" text-anchor="middle" dominant-baseline="central">B</text>
<text x="240.7" y="783.4" font-size="8.3" text-anchor="middle" dominant-baseline="central">P</text>
<text x="255.5" y="783.4" font-size="8.3" text-anchor="middle" dominant-baseline="central">T</text>
<path d="M203.00 668.40V674.20M214.60 668.40V674.20M203.00 669.80H214.60M203.00 672.60H214.60" fill="none" stroke="#111" stroke-width="0.95" stroke-linejoin="miter"/>
<path d="M280.40 668.40V674.20M291.60 668.40V674.20M280.40 669.80H291.60M280.40 672.60H291.60" fill="none" stroke="#111" stroke-width="0.95" stroke-linejoin="miter"/>
<path d="M226.90 669.80H270.50V685.00H226.90z" fill="none" stroke="#111" stroke-width="1.05" stroke-linejoin="miter"/>
<path d="M241.20 669.80V685.00M255.50 669.80V685.00" fill="none" stroke="#111" stroke-width="1.05" stroke-linejoin="miter"/>
<path d="M230.30 685.00V670.40" fill="none" stroke="#111" stroke-width="0.95" stroke-linejoin="miter"/>
<path d="M230.30 670.40l-0.90 3.00h1.80z" fill="#111" stroke="#111" stroke-width="0.3" stroke-linejoin="miter"/>
<path d="M237.80 669.80V684.40" fill="none" stroke="#111" stroke-width="0.95" stroke-linejoin="miter"/>
<path d="M237.80 684.40l-0.90 -3.00h1.80z" fill="#111" stroke="#111" stroke-width="0.3" stroke-linejoin="miter"/>
<path d="M244.30 668.00V672.00M244.30 682.80V686.80" fill="none" stroke="#111" stroke-width="0.95" stroke-linejoin="miter"/>
<path d="M252.10 668.00V672.00M252.10 682.80V686.80" fill="none" stroke="#111" stroke-width="0.95" stroke-linejoin="miter"/>
<path d="M258.90 685.00L267.10 669.80M258.90 669.80L267.10 685.00" fill="none" stroke="#111" stroke-width="0.95" stroke-linejoin="miter"/>
<path d="M267.10 669.80L264.56 672.29L266.41 673.29z" fill="#111" stroke="#111" stroke-width="0.3" stroke-linejoin="miter"/>
<path d="M267.10 685.00L266.41 681.51L264.56 682.51z" fill="#111" stroke="#111" stroke-width="0.3" stroke-linejoin="miter"/>
<path d="M203.50 677.90H226.90M203.50 677.90V685.00H226.90M214.60 677.90V685.00M207.60 685.00L211.80 677.90" fill="none" stroke="#111" stroke-width="0.95" stroke-linejoin="miter"/>
<path d="M214.60 678.40V684.50L220.80 681.45z" fill="#111" stroke="#111" stroke-width="0.3" stroke-linejoin="miter"/>
<path d="M220.80 681.45H226.90" fill="none" stroke="#111" stroke-width="0.95" stroke-linejoin="miter"/>
<path d="M270.50 677.90H291.60V685.00H270.50M280.00 677.90V685.00M283.50 677.90L287.60 685.00" fill="none" stroke="#111" stroke-width="0.95" stroke-linejoin="miter"/>
<path d="M280.00 678.40V684.50L273.80 681.45z" fill="#111" stroke="#111" stroke-width="0.3" stroke-linejoin="miter"/>
<path d="M273.80 681.45H270.50" fill="none" stroke="#111" stroke-width="0.95" stroke-linejoin="miter"/>
<path d="M217.30 676.00L219.53 670.60L221.75 676.00L223.97 670.60L226.20 676.00" fill="none" stroke="#111" stroke-width="0.95" stroke-linejoin="miter"/>
<path d="M271.20 670.60L273.40 676.00L275.60 670.60L277.80 676.00L280.00 670.60" fill="none" stroke="#111" stroke-width="0.95" stroke-linejoin="miter"/>
<path d="M226.20 685.00V693.60M222.80 692.20V693.60H230.30V692.20" fill="none" stroke="#111" stroke-width="0.95" stroke-linejoin="miter"/>
<text x="199.9" y="677.5" font-size="7" text-anchor="middle" dominant-baseline="central">a</text>
<text x="294.8" y="677.5" font-size="7" text-anchor="middle" dominant-baseline="central">b</text>
<text x="240.3" y="665.4" font-size="8.3" text-anchor="middle" dominant-baseline="central">A</text>
<text x="255.2" y="665.4" font-size="8.3" text-anchor="middle" dominant-baseline="central">B</text>
<text x="241.0" y="691.2" font-size="8.3" text-anchor="middle" dominant-baseline="central">P</text>
<text x="255.6" y="691.2" font-size="8.3" text-anchor="middle" dominant-baseline="central">T</text>
<text x="217.3" y="691.2" font-size="8.3" text-anchor="middle" dominant-baseline="central">Y</text>
<path d="M203.00 808.80V814.60M214.60 808.80V814.60M203.00 810.20H214.60M203.00 813.00H214.60" fill="none" stroke="#111" stroke-width="0.95" stroke-linejoin="miter"/>
<path d="M280.40 808.80V814.60M291.60 808.80V814.60M280.40 810.20H291.60M280.40 813.00H291.60" fill="none" stroke="#111" stroke-width="0.95" stroke-linejoin="miter"/>
<path d="M226.90 810.20H270.50V825.40H226.90z" fill="none" stroke="#111" stroke-width="1.05" stroke-linejoin="miter"/>
<path d="M241.20 810.20V825.40M255.50 810.20V825.40" fill="none" stroke="#111" stroke-width="1.05" stroke-linejoin="miter"/>
<path d="M230.30 825.40V810.80" fill="none" stroke="#111" stroke-width="0.95" stroke-linejoin="miter"/>
<path d="M230.30 810.80l-0.90 3.00h1.80z" fill="#111" stroke="#111" stroke-width="0.3" stroke-linejoin="miter"/>
<path d="M237.80 810.20V824.80" fill="none" stroke="#111" stroke-width="0.95" stroke-linejoin="miter"/>
<path d="M237.80 824.80l-0.90 -3.00h1.80z" fill="#111" stroke="#111" stroke-width="0.3" stroke-linejoin="miter"/>
<path d="M244.30 808.40V812.40M244.30 823.20V827.20" fill="none" stroke="#111" stroke-width="0.95" stroke-linejoin="miter"/>
<path d="M252.10 808.40V812.40M252.10 823.20V827.20" fill="none" stroke="#111" stroke-width="0.95" stroke-linejoin="miter"/>
<path d="M258.90 825.40L267.10 810.20M258.90 810.20L267.10 825.40" fill="none" stroke="#111" stroke-width="0.95" stroke-linejoin="miter"/>
<path d="M267.10 810.20L264.56 812.69L266.41 813.69z" fill="#111" stroke="#111" stroke-width="0.3" stroke-linejoin="miter"/>
<path d="M267.10 825.40L266.41 821.91L264.56 822.91z" fill="#111" stroke="#111" stroke-width="0.3" stroke-linejoin="miter"/>
<path d="M203.50 818.30H226.90M203.50 818.30V825.40H226.90M214.60 818.30V825.40M207.60 825.40L211.80 818.30" fill="none" stroke="#111" stroke-width="0.95" stroke-linejoin="miter"/>
<path d="M214.60 818.80V824.90L220.80 821.85z" fill="#111" stroke="#111" stroke-width="0.3" stroke-linejoin="miter"/>
<path d="M220.80 821.85H226.90" fill="none" stroke="#111" stroke-width="0.95" stroke-linejoin="miter"/>
<path d="M270.50 818.30H291.60V825.40H270.50M280.00 818.30V825.40M283.50 818.30L287.60 825.40" fill="none" stroke="#111" stroke-width="0.95" stroke-linejoin="miter"/>
<path d="M280.00 818.80V824.90L273.80 821.85z" fill="#111" stroke="#111" stroke-width="0.3" stroke-linejoin="miter"/>
<path d="M273.80 821.85H270.50" fill="none" stroke="#111" stroke-width="0.95" stroke-linejoin="miter"/>
<path d="M217.30 816.40L219.53 811.00L221.75 816.40L223.97 811.00L226.20 816.40" fill="none" stroke="#111" stroke-width="0.95" stroke-linejoin="miter"/>
<path d="M271.20 811.00L273.40 816.40L275.60 811.00L277.80 816.40L280.00 811.00" fill="none" stroke="#111" stroke-width="0.95" stroke-linejoin="miter"/>
<path d="M226.20 825.40V834.00M222.80 832.60V834.00H230.30V832.60" fill="none" stroke="#111" stroke-width="0.95" stroke-linejoin="miter"/>
<text x="199.9" y="817.9" font-size="7" text-anchor="middle" dominant-baseline="central">a</text>
<text x="294.8" y="817.9" font-size="7" text-anchor="middle" dominant-baseline="central">b</text>
<text x="240.3" y="805.8" font-size="8.3" text-anchor="middle" dominant-baseline="central">A</text>
<text x="255.2" y="805.8" font-size="8.3" text-anchor="middle" dominant-baseline="central">B</text>
<text x="241.0" y="831.6" font-size="8.3" text-anchor="middle" dominant-baseline="central">P</text>
<text x="255.6" y="831.6" font-size="8.3" text-anchor="middle" dominant-baseline="central">T</text>
<text x="217.3" y="831.6" font-size="8.3" text-anchor="middle" dominant-baseline="central">Y</text>
<path d="M219.3 859.8H273.9V877.1H219.3z" fill="none" stroke="#111" stroke-width="1.05" stroke-linejoin="miter"/>
<path d="M238 859.8V877.1M256.4 859.8V877.1" fill="none" stroke="#111" stroke-width="1.05" stroke-linejoin="miter"/>
<path d="M224.80 877.10L233.60 859.80M224.80 859.80L233.60 877.10" fill="none" stroke="#111" stroke-width="0.95" stroke-linejoin="miter"/>
<path d="M233.60 859.80L231.12 862.35L232.99 863.31z" fill="#111" stroke="#111" stroke-width="0.3" stroke-linejoin="miter"/>
<path d="M233.60 877.10L232.99 873.59L231.12 874.55z" fill="#111" stroke="#111" stroke-width="0.3" stroke-linejoin="miter"/>
<path d="M260.20 877.10V860.40" fill="none" stroke="#111" stroke-width="0.95" stroke-linejoin="miter"/>
<path d="M260.20 860.40l-1.15 3.60h2.30z" fill="#111" stroke="#111" stroke-width="0.3" stroke-linejoin="miter"/>
<path d="M269.80 859.80V876.50" fill="none" stroke="#111" stroke-width="0.95" stroke-linejoin="miter"/>
<path d="M269.80 876.50l-1.15 -3.60h2.30z" fill="#111" stroke="#111" stroke-width="0.3" stroke-linejoin="miter"/>
<path d="M242.5 855.7V863.2M251.6 855.7V863.2M242.5 874.1V883.6M251.6 874.1V883.6" fill="none" stroke="#111" stroke-width="0.95" stroke-linejoin="miter"/>
<path d="M209.80 866.60L212.18 860.50L214.55 866.60L216.93 860.50L219.30 866.60" fill="none" stroke="#111" stroke-width="0.95" stroke-linejoin="miter"/>
<path d="M273.90 866.60L276.45 860.50L279.00 866.60L281.55 860.50L284.10 866.60" fill="none" stroke="#111" stroke-width="0.95" stroke-linejoin="miter"/>
<path d="M200.9 873.1H219.3M273.9 873.1H293" fill="none" stroke="#111" stroke-width="1.05" stroke-dasharray="3.2 1.6"/>
<text x="202.3" y="879.6" font-size="8.3" text-anchor="middle" dominant-baseline="central">X</text>
<text x="292.0" y="879.0" font-size="8.3" text-anchor="middle" dominant-baseline="central">Y</text>
<text x="238.2" y="854.3" font-size="8.3" text-anchor="middle" dominant-baseline="central">A</text>
<text x="256.7" y="854.3" font-size="8.3" text-anchor="middle" dominant-baseline="central">B</text>
<text x="237.6" y="883.8" font-size="8.3" text-anchor="middle" dominant-baseline="central">P</text>
<text x="256.9" y="883.8" font-size="8.3" text-anchor="middle" dominant-baseline="central">T</text>
<path d="M213.5 910.2H273.5V929.3H213.5z" fill="none" stroke="#111" stroke-width="1.05" stroke-linejoin="miter"/>
<path d="M234.3 910.2V929.3M254.1 910.2V929.3" fill="none" stroke="#111" stroke-width="1.05" stroke-linejoin="miter"/>
<path d="M220.00 929.30V910.80" fill="none" stroke="#111" stroke-width="0.95" stroke-linejoin="miter"/>
<path d="M220.00 910.80l-1.20 3.60h2.40z" fill="#111" stroke="#111" stroke-width="0.3" stroke-linejoin="miter"/>
<path d="M229.50 910.20V928.70" fill="none" stroke="#111" stroke-width="0.95" stroke-linejoin="miter"/>
<path d="M229.50 928.70l-1.15 -3.60h2.30z" fill="#111" stroke="#111" stroke-width="0.3" stroke-linejoin="miter"/>
<path d="M259.50 929.30L268.40 910.20M259.50 910.20L268.40 929.30" fill="none" stroke="#111" stroke-width="0.95" stroke-linejoin="miter"/>
<path d="M268.40 910.20L266.01 912.84L267.92 913.73z" fill="#111" stroke="#111" stroke-width="0.3" stroke-linejoin="miter"/>
<path d="M268.40 929.30L267.92 925.77L266.01 926.66z" fill="#111" stroke="#111" stroke-width="0.3" stroke-linejoin="miter"/>
<path d="M239.4 905.5V914.3M249.6 905.5V914.3M239.4 925.2V933.4M249.6 925.2V933.4" fill="none" stroke="#111" stroke-width="0.95" stroke-linejoin="miter"/>
<path d="M203.00 923.20L205.62 916.40L208.25 923.20L210.88 916.40L213.50 923.20" fill="none" stroke="#111" stroke-width="0.95" stroke-linejoin="miter"/>
<path d="M273.90 918.40L276.45 911.60L279.00 918.40L281.55 911.60L284.10 918.40" fill="none" stroke="#111" stroke-width="0.95" stroke-linejoin="miter"/>
<path d="M273.5 921.5H292.5M273.5 924.5H292.5M292.5 902.3V930.7" fill="none" stroke="#111" stroke-width="0.95" stroke-linejoin="miter"/>
<circle cx="292.5" cy="899.6" r="2.6" fill="none" stroke="#111" stroke-width="0.75"/>
<text x="234.1" y="904.1" font-size="8.3" text-anchor="middle" dominant-baseline="central">A</text>
<text x="254.3" y="903.6" font-size="8.3" text-anchor="middle" dominant-baseline="central">B</text>
<text x="234.1" y="936.2" font-size="8.3" text-anchor="middle" dominant-baseline="central">P</text>
<text x="254.5" y="936.2" font-size="8.3" text-anchor="middle" dominant-baseline="central">T</text>
<path d="M210.5 954.3H244.8V970.3H210.5z" fill="none" stroke="#111" stroke-width="1.05" stroke-linejoin="miter"/>
<path d="M227.5 954.3V970.3" fill="none" stroke="#111" stroke-width="1.05" stroke-linejoin="miter"/>
<path d="M215 951.6V972.7M224.1 951.6V972.7" fill="none" stroke="#111" stroke-width="0.95" stroke-linejoin="miter"/>
<path d="M215 955l-0.9 3h1.8z" fill="#111" stroke="#111" stroke-width="0.3" stroke-linejoin="miter"/>
<path d="M224.1 969.6l-0.9 -3h1.8z" fill="#111" stroke="#111" stroke-width="0.3" stroke-linejoin="miter"/>
<path d="M231.60 970.30L241.80 954.30M231.60 954.30L241.80 970.30" fill="none" stroke="#111" stroke-width="0.95" stroke-linejoin="miter"/>
<path d="M241.80 954.30L239.09 956.60L240.86 957.73z" fill="#111" stroke="#111" stroke-width="0.3" stroke-linejoin="miter"/>
<path d="M241.80 970.30L240.86 966.87L239.09 968.00z" fill="#111" stroke="#111" stroke-width="0.3" stroke-linejoin="miter"/>
<path d="M210.5 962.5L208 967L205.6 962.5L204.2 966.5H200.8L199.6 962.5H197.1V970.3H210.5M204.2 966.5V970.3" fill="none" stroke="#111" stroke-width="0.95" stroke-linejoin="miter"/>
<path d="M200.9 959V962.4" fill="none" stroke="#111" stroke-width="0.95" stroke-linejoin="miter"/>
<path d="M200.9 963l-0.8 -2.4h1.6z" fill="#111" stroke="#111" stroke-width="0.3" stroke-linejoin="miter"/>
<path d="M244.8 963.2H259.5a1.7 1.7 0 0 1 0 3.4H244.8" fill="none" stroke="#111" stroke-width="0.95" stroke-linejoin="miter"/>
<path d="M248.6 957.2A8.5 8.5 0 0 1 248.6 972.4" fill="none" stroke="#111" stroke-width="0.95" stroke-linejoin="miter"/>
<path d="M248 956.6l3.4 0.6l-2 2z" fill="#111" stroke="#111" stroke-width="0.3" stroke-linejoin="miter"/>
<path d="M248 973l3.4 -0.6l-2 -2z" fill="#111" stroke="#111" stroke-width="0.3" stroke-linejoin="miter"/>
<text x="211.1" y="950.2" font-size="6.5" text-anchor="middle" dominant-baseline="central">A</text>
<text x="228.0" y="950.2" font-size="6.5" text-anchor="middle" dominant-baseline="central">B</text>
<text x="211.6" y="974.9" font-size="6.5" text-anchor="middle" dominant-baseline="central">P</text>
<text x="228.0" y="974.9" font-size="6.5" text-anchor="middle" dominant-baseline="central">T</text>
<circle cx="218.4" cy="993.9" r="2.6" fill="none" stroke="#111" stroke-width="0.9"/>
<circle cx="218.4" cy="993.9" r="0.9" fill="none" stroke="#111" stroke-width="0.7"/>
<path d="M220.8 992.6H231.6M220.8 995.2H231.6" fill="none" stroke="#111" stroke-width="0.95" stroke-linejoin="miter"/>
<path d="M231.6 985.4H249.6V1002.5H231.6z" fill="none" stroke="#111" stroke-width="1.05" stroke-linejoin="miter"/>
<path d="M237.00 1002.50V986.00" fill="none" stroke="#111" stroke-width="0.95" stroke-linejoin="miter"/>
<path d="M237.00 986.00l-0.90 3.00h1.80z" fill="#111" stroke="#111" stroke-width="0.3" stroke-linejoin="miter"/>
<path d="M245.20 985.40V1001.90" fill="none" stroke="#111" stroke-width="0.95" stroke-linejoin="miter"/>
<path d="M245.20 1001.90l-0.90 -3.00h1.80z" fill="#111" stroke="#111" stroke-width="0.3" stroke-linejoin="miter"/>
<path d="M253.4 986.6V990.3M251.6 986.6H255.20000000000002M251.6 990.3H255.20000000000002M253.4 998.4V1002.3M251.6 998.4H255.20000000000002M251.6 1002.3H255.20000000000002" fill="none" stroke="#111" stroke-width="1.1" stroke-linejoin="miter"/>
<path d="M262.3 986.6V990.3M260.5 986.6H264.1M260.5 990.3H264.1M262.3 998.4V1002.3M260.5 998.4H264.1M260.5 1002.3H264.1" fill="none" stroke="#111" stroke-width="1.1" stroke-linejoin="miter"/>
<path d="M266.6 985.4H284.4V1002.5H266.6z" fill="none" stroke="#111" stroke-width="1.05" stroke-linejoin="miter"/>
<path d="M269.80 1002.50L281.20 985.40M269.80 985.40L281.20 1002.50" fill="none" stroke="#111" stroke-width="0.95" stroke-linejoin="miter"/>
<path d="M281.20 985.40L278.44 987.65L280.19 988.81z" fill="#111" stroke="#111" stroke-width="0.3" stroke-linejoin="miter"/>
<path d="M281.20 1002.50L280.19 999.09L278.44 1000.25z" fill="#111" stroke="#111" stroke-width="0.3" stroke-linejoin="miter"/>
<path d="M270.5 982.6V985.4M280.7 982.6V985.4M270.5 1002.5V1005.4M280.7 1002.5V1005.4" fill="none" stroke="#111" stroke-width="0.95" stroke-linejoin="miter"/>
<path d="M284.80 998.00L287.35 991.10L289.90 998.00L292.45 991.10L295.00 998.00" fill="none" stroke="#111" stroke-width="0.95" stroke-linejoin="miter"/>
<text x="267.4" y="981.0" font-size="6.5" text-anchor="middle" dominant-baseline="central">A</text>
<text x="284.2" y="981.0" font-size="6.5" text-anchor="middle" dominant-baseline="central">B</text>
<text x="266.8" y="1006.9" font-size="6.5" text-anchor="middle" dominant-baseline="central">P</text>
<text x="284.6" y="1006.9" font-size="6.5" text-anchor="middle" dominant-baseline="central">T</text>
</g>
</svg>
<div class="t cj" style="left:80.00px;top:86.00px;font-size:14px;letter-spacing:35.300px">种类</div>
<div class="t " style="left:98.00px;width:300px;text-align:center;top:78.50px;font-size:14px;">JIS</div>
<div class="t cj" style="left:203.80px;top:93.80px;font-size:14px;letter-spacing:0.840px">液压图形符号</div>
<div class="t cj" style="left:311.00px;top:69.80px;font-size:14px;letter-spacing:23.500px">最高</div>
<div class="t cj" style="left:311.00px;top:86.30px;font-size:14px;letter-spacing:0.333px">工作压力</div>
<div class="t " style="left:189.50px;width:300px;text-align:center;top:106.50px;font-size:14px;">MPa</div>
<div class="t cj" style="left:507.50px;top:70.80px;font-size:14px;letter-spacing:20.833px">最大流量</div>
<div class="t " style="left:531.00px;width:300px;text-align:center;top:72.50px;font-size:14px;">L/min</div>
<div class="t cj" style="left:807.00px;top:85.80px;font-size:14px;letter-spacing:6.500px">页次</div>
<div class="t " style="left:234.00px;width:300px;text-align:center;top:95.00px;font-size:14.5px;letter-spacing:-0.5px;">1</div>
<div class="t " style="left:267.40px;width:300px;text-align:center;top:95.00px;font-size:14.5px;letter-spacing:-0.5px;">2</div>
<div class="t " style="left:310.50px;width:300px;text-align:center;top:95.00px;font-size:14.5px;letter-spacing:-0.5px;">5</div>
<div class="t " style="left:343.00px;width:300px;text-align:center;top:95.00px;font-size:14.5px;letter-spacing:-0.5px;">10</div>
<div class="t " style="left:375.90px;width:300px;text-align:center;top:95.00px;font-size:14.5px;letter-spacing:-0.5px;">20</div>
<div class="t " style="left:418.60px;width:300px;text-align:center;top:95.00px;font-size:14.5px;letter-spacing:-0.5px;">50</div>
<div class="t " style="left:451.30px;width:300px;text-align:center;top:95.00px;font-size:14.5px;letter-spacing:-0.5px;">100</div>
<div class="t " style="left:484.00px;width:300px;text-align:center;top:95.00px;font-size:14.5px;letter-spacing:-0.5px;">200</div>
<div class="t " style="left:527.40px;width:300px;text-align:center;top:95.00px;font-size:14.5px;letter-spacing:-0.5px;">500</div>
<div class="t " style="left:561.00px;width:300px;text-align:center;top:95.00px;font-size:14.5px;letter-spacing:-0.5px;">1000</div>
<div class="t " style="left:594.30px;width:300px;text-align:center;top:95.00px;font-size:14.5px;letter-spacing:-0.5px;">2000</div>
<div class="t " style="left:630.50px;width:300px;text-align:center;top:95.00px;font-size:14.5px;letter-spacing:-0.5px;">5000</div>
<div class="t " style="left:189.20px;width:300px;text-align:center;top:136.30px;font-size:14.5px;letter-spacing:-0.5px;">25</div>
<div class="t " style="left:189.20px;width:300px;text-align:center;top:161.70px;font-size:14.5px;letter-spacing:-0.5px;">25</div>
<div class="t " style="left:189.20px;width:300px;text-align:center;top:187.20px;font-size:14.5px;letter-spacing:-0.5px;">16</div>
<div class="t " style="left:189.20px;width:300px;text-align:center;top:211.70px;font-size:14.5px;letter-spacing:-0.5px;">25</div>
<div class="t " style="left:189.20px;width:300px;text-align:center;top:234.50px;font-size:14.5px;letter-spacing:-0.5px;">35</div>
<div class="t " style="left:189.20px;width:300px;text-align:center;top:259.70px;font-size:14.5px;letter-spacing:-0.5px;">16</div>
<div class="t " style="left:189.20px;width:300px;text-align:center;top:285.70px;font-size:14.5px;letter-spacing:-0.5px;">25</div>
<div class="t " style="left:189.20px;width:300px;text-align:center;top:309.00px;font-size:14.5px;letter-spacing:-0.5px;">35</div>
<div class="t " style="left:189.20px;width:300px;text-align:center;top:343.70px;font-size:14.5px;letter-spacing:-0.5px;">16</div>
<div class="t " style="left:189.20px;width:300px;text-align:center;top:393.60px;font-size:14.5px;letter-spacing:-0.5px;">35</div>
<div class="t " style="left:189.20px;width:300px;text-align:center;top:429.20px;font-size:14.5px;letter-spacing:-0.5px;">25</div>
<div class="t " style="left:189.20px;width:300px;text-align:center;top:452.00px;font-size:14.5px;letter-spacing:-0.5px;">35</div>
<div class="t " style="left:189.20px;width:300px;text-align:center;top:477.10px;font-size:14.5px;letter-spacing:-0.5px;">25</div>
<div class="t " style="left:189.20px;width:300px;text-align:center;top:500.50px;font-size:14.5px;letter-spacing:-0.5px;">31.5</div>
<div class="t " style="left:189.20px;width:300px;text-align:center;top:536.50px;font-size:14.5px;letter-spacing:-0.5px;">31.5</div>
<div class="t " style="left:189.20px;width:300px;text-align:center;top:583.60px;font-size:14.5px;letter-spacing:-0.5px;">31.5</div>
<div class="t " style="left:189.20px;width:300px;text-align:center;top:621.50px;font-size:14.5px;letter-spacing:-0.5px;">21</div>
<div class="t " style="left:189.20px;width:300px;text-align:center;top:646.60px;font-size:14.5px;letter-spacing:-0.5px;">25</div>
<div class="t " style="left:189.20px;width:300px;text-align:center;top:693.10px;font-size:14.5px;letter-spacing:-0.5px;">31.5</div>
<div class="t " style="left:189.20px;width:300px;text-align:center;top:758.50px;font-size:14.5px;letter-spacing:-0.5px;">25</div>
<div class="t " style="left:189.20px;width:300px;text-align:center;top:808.60px;font-size:14.5px;letter-spacing:-0.5px;">25</div>
<div class="t " style="left:189.20px;width:300px;text-align:center;top:858.50px;font-size:14.5px;letter-spacing:-0.5px;">31.5</div>
<div class="t " style="left:189.20px;width:300px;text-align:center;top:895.80px;font-size:14.5px;letter-spacing:-0.5px;">21</div>
<div class="t " style="left:189.20px;width:300px;text-align:center;top:920.60px;font-size:14.5px;letter-spacing:-0.5px;">31.5</div>
<div class="t " style="left:189.20px;width:300px;text-align:center;top:951.90px;font-size:14.5px;letter-spacing:-0.5px;">7</div>
<div class="t " style="left:189.20px;width:300px;text-align:center;top:988.30px;font-size:14.5px;letter-spacing:-0.5px;">25</div>
<div class="t " style="left:676.30px;width:300px;text-align:center;top:136.70px;font-size:14.5px;letter-spacing:-0.5px;">282</div>
<div class="t " style="left:676.30px;width:300px;text-align:center;top:162.20px;font-size:14.5px;letter-spacing:-0.5px;">288</div>
<div class="t " style="left:676.30px;width:300px;text-align:center;top:206.20px;font-size:14.5px;letter-spacing:-0.5px;">294</div>
<div class="t " style="left:676.30px;width:300px;text-align:center;top:281.70px;font-size:14.5px;letter-spacing:-0.5px;">309</div>
<div class="t " style="left:676.30px;width:300px;text-align:center;top:344.20px;font-size:14.5px;letter-spacing:-0.5px;">325</div>
<div class="t " style="left:676.30px;width:300px;text-align:center;top:394.10px;font-size:14.5px;letter-spacing:-0.5px;">334</div>
<div class="t " style="left:676.30px;width:300px;text-align:center;top:440.20px;font-size:14.5px;letter-spacing:-0.5px;">340</div>
<div class="t " style="left:676.30px;width:300px;text-align:center;top:488.60px;font-size:14.5px;letter-spacing:-0.5px;">340</div>
<div class="t " style="left:676.30px;width:300px;text-align:center;top:537.70px;font-size:14.5px;letter-spacing:-0.5px;">344</div>
<div class="t " style="left:676.30px;width:300px;text-align:center;top:584.00px;font-size:14.5px;letter-spacing:-0.5px;">346</div>
<div class="t " style="left:676.30px;width:300px;text-align:center;top:658.80px;font-size:14.5px;letter-spacing:-0.5px;">347</div>
<div class="t " style="left:676.30px;width:300px;text-align:center;top:758.70px;font-size:14.5px;letter-spacing:-0.5px;">372</div>
<div class="t " style="left:676.30px;width:300px;text-align:center;top:810.70px;font-size:14.5px;letter-spacing:-0.5px;">372</div>
<div class="t " style="left:676.30px;width:300px;text-align:center;top:857.70px;font-size:14.5px;letter-spacing:-0.5px;">374</div>
<div class="t " style="left:676.30px;width:300px;text-align:center;top:908.60px;font-size:14.5px;letter-spacing:-0.5px;">375</div>
<div class="t " style="left:676.30px;width:300px;text-align:center;top:967.90px;font-size:14.5px;letter-spacing:-0.5px;">376</div>
<div class="t cj" style="left:38.80px;top:225.30px;font-size:14px;letter-spacing:17.800px">电磁换向阀</div>
<div class="t cj" style="left:38.8px;top:333.8px;font-size:14px;letter-spacing:7.3px">低功率型<span style="letter-spacing:0;margin-left:-3.5px">（</span><span style="letter-spacing:2.4px;margin-left:3.7px;font-family:'Liberation Serif',serif;position:relative;top:2.2px">5 W</span><span style="letter-spacing:0;margin-left:-1.1px">）</span></div>
<div class="t cj" style="left:38.80px;top:352.30px;font-size:14px;letter-spacing:17.550px">电磁换向阀</div>
<div class="t cj" style="left:38.80px;top:391.40px;font-size:14px;letter-spacing:3.957px">节能型电磁换向阀</div>
<div class="t cj" style="left:38.80px;top:453.80px;font-size:14px;letter-spacing:4.171px">电子继电器内藏型</div>
<div class="t cj" style="left:38.80px;top:473.30px;font-size:14px;letter-spacing:17.800px">电磁换向阀</div>
<div class="t cj" style="left:38.80px;top:525.40px;font-size:14px;letter-spacing:17.675px">耐压防爆型</div>
<div class="t cj" style="left:38.80px;top:544.80px;font-size:14px;letter-spacing:17.675px">电磁换向阀</div>
<div class="t cj" style="left:38.80px;top:574.20px;font-size:14px;letter-spacing:6.533px">增大安全防爆型</div>
<div class="t cj" style="left:38.80px;top:593.60px;font-size:14px;letter-spacing:16.800px">电磁换向阀</div>
<div class="t cj" style="left:38.80px;top:666.00px;font-size:14px;letter-spacing:15.725px">电液换向阀</div>
<div class="t cj" style="left:38.80px;top:746.40px;font-size:14px;letter-spacing:2.512px">G系列变量无冲击型</div>
<div class="t cj" style="left:38.80px;top:766.80px;font-size:14px;letter-spacing:18.050px">电磁换向阀</div>
<div class="t cj" style="left:38.80px;top:795.50px;font-size:14px;letter-spacing:2.075px">G系列变量无冲击型</div>
<div class="t cj" style="left:38.80px;top:815.30px;font-size:14px;letter-spacing:17.175px">电液换向阀</div>
<div class="t cj" style="left:38.80px;top:856.80px;font-size:14px;letter-spacing:17.800px">液控换向阀</div>
<div class="t cj" style="left:38.80px;top:906.20px;font-size:14px;letter-spacing:17.800px">手动换向阀</div>
<div class="t cj" style="left:38.80px;top:968.30px;font-size:14px;letter-spacing:17.800px">机动换向阀</div>
<div class="t " style="left:103.90px;width:400px;text-align:right;top:140.10px;font-size:15px;letter-spacing:-0.45px;">DSG<span class="h">-</span><span class="d" style="margin:0 -1.38px">005</span></div>
<div class="t " style="left:103.90px;width:400px;text-align:right;top:164.85px;font-size:15px;letter-spacing:-0.45px;">DSG<span class="h">-</span><span class="d" style="margin:0 -1.38px">007</span></div>
<div class="t " style="left:154.50px;width:400px;text-align:right;top:190.50px;font-size:15px;letter-spacing:-0.45px;">L<span class="h">-</span>DSG<span class="h">-</span><span class="d" style="margin:0 -0.92px">01</span></div>
<div class="t " style="left:174.20px;width:400px;text-align:right;top:212.90px;font-size:15px;letter-spacing:-0.45px;">S<span class="h">-</span>DSG<span class="h">-</span><span class="d" style="margin:0 -0.92px">01</span></div>
<div class="t " style="left:194.50px;width:400px;text-align:right;top:235.75px;font-size:15px;letter-spacing:-0.45px;">DSG<span class="h">-</span><span class="d" style="margin:0 -0.92px">01</span></div>
<div class="t " style="left:170.60px;width:400px;text-align:right;top:264.10px;font-size:15px;letter-spacing:-0.45px;">L<span class="h">-</span>DSG<span class="h">-</span><span class="d" style="margin:0 -0.92px">03</span></div>
<div class="t " style="left:198.10px;width:400px;text-align:right;top:288.05px;font-size:15px;letter-spacing:-0.45px;">S<span class="h">-</span>DSG<span class="h">-</span><span class="d" style="margin:0 -0.92px">03</span></div>
<div class="t " style="left:198.10px;width:400px;text-align:right;top:311.30px;font-size:15px;letter-spacing:-0.45px;">DSG<span class="h">-</span><span class="d" style="margin:0 -0.92px">03</span></div>
<div class="t " style="left:153.20px;width:400px;text-align:right;top:336.95px;font-size:15px;letter-spacing:-0.45px;">E<span class="h">-</span>DSG<span class="h">-</span><span class="d" style="margin:0 -0.92px">01</span></div>
<div class="t " style="left:174.40px;width:400px;text-align:right;top:359.05px;font-size:15px;letter-spacing:-0.45px;">E<span class="h">-</span>DSG<span class="h">-</span><span class="d" style="margin:0 -0.92px">03</span></div>
<div class="t " style="left:174.40px;width:400px;text-align:right;top:432.25px;font-size:15px;letter-spacing:-0.45px;">T<span class="h">-</span>S<span class="h">-</span>DSG<span class="h">-</span><span class="d" style="margin:0 -0.92px">01</span></div>
<div class="t " style="left:193.60px;width:400px;text-align:right;top:454.50px;font-size:15px;letter-spacing:-0.45px;">T<span class="h">-</span>DSG<span class="h">-</span><span class="d" style="margin:0 -0.92px">01</span></div>
<div class="t " style="left:199.60px;width:400px;text-align:right;top:480.60px;font-size:15px;letter-spacing:-0.45px;">T<span class="h">-</span>S<span class="h">-</span>DSG<span class="h">-</span><span class="d" style="margin:0 -0.92px">03</span></div>
<div class="t " style="left:199.60px;width:400px;text-align:right;top:502.75px;font-size:15px;letter-spacing:-0.45px;">T<span class="h">-</span>DSG<span class="h">-</span><span class="d" style="margin:0 -0.92px">03</span></div>
<div class="t " style="left:153.80px;width:400px;text-align:right;top:625.35px;font-size:15px;letter-spacing:-0.45px;">DSHG<span class="h">-</span><span class="d" style="margin:0 -0.92px">01</span></div>
<div class="t " style="left:211.40px;width:400px;text-align:right;top:650.50px;font-size:15px;letter-spacing:-0.45px;">DSHG<span class="h">-</span><span class="d" style="margin:0 -0.92px">03</span></div>
<div class="t " style="left:244.60px;width:400px;text-align:right;top:675.95px;font-size:15px;letter-spacing:-0.45px;">DSHG<span class="h">-</span><span class="d" style="margin:0 -0.92px">04</span>/S<span class="h">-</span>DSHG<span class="h">-</span><span class="d" style="margin:0 -0.92px">04</span></div>
<div class="t " style="left:269.10px;width:400px;text-align:right;top:699.65px;font-size:15px;letter-spacing:-0.45px;">DSHG<span class="h">-</span><span class="d" style="margin:0 -0.92px">06</span>/S<span class="h">-</span>DSHG<span class="h">-</span><span class="d" style="margin:0 -0.92px">06</span></div>
<div class="t " style="left:312.00px;width:400px;text-align:right;top:724.65px;font-size:15px;letter-spacing:-0.45px;">DSHG<span class="h">-</span><span class="d" style="margin:0 -0.92px">10</span>/S<span class="h">-</span>DSHG<span class="h">-</span><span class="d" style="margin:0 -0.92px">10</span></div>
<div class="t " style="left:153.90px;width:400px;text-align:right;top:751.60px;font-size:15px;letter-spacing:-0.45px;">G<span class="h">-</span>DSG<span class="h">-</span><span class="d" style="margin:0 -0.92px">01</span></div>
<div class="t " style="left:184.00px;width:400px;text-align:right;top:774.40px;font-size:15px;letter-spacing:-0.45px;">G<span class="h">-</span>DSG<span class="h">-</span><span class="d" style="margin:0 -0.92px">03</span></div>
<div class="t " style="left:211.50px;width:400px;text-align:right;top:801.95px;font-size:15px;letter-spacing:-0.45px;">G<span class="h">-</span>DSHG<span class="h">-</span><span class="d" style="margin:0 -0.92px">04</span></div>
<div class="t " style="left:235.70px;width:400px;text-align:right;top:824.25px;font-size:15px;letter-spacing:-0.45px;">G<span class="h">-</span>DSHG<span class="h">-</span><span class="d" style="margin:0 -0.92px">06</span></div>
<div class="t " style="left:389.80px;width:300px;text-align:center;top:400.70px;font-size:14px;">HE-DSG-01</div>
<div class="t " style="left:392.20px;text-align:left;top:527.90px;font-size:14.5px;letter-spacing:-0.45px;">DSG<span class="h">-</span><span class="d" style="margin:0 -0.92px">01</span><span class="h">-</span><span class="st">※</span><span class="st">※</span><span class="st">※</span><span class="h">-</span><span class="st">※</span><span class="st">※</span>X<span class="st">※</span></div>
<div class="t " style="left:392.20px;text-align:left;top:549.85px;font-size:14.5px;letter-spacing:-0.45px;">DSG<span class="h">-</span><span class="d" style="margin:0 -0.92px">03</span><span class="h">-</span><span class="st">※</span><span class="st">※</span><span class="st">※</span><span class="h">-</span><span class="st">※</span><span class="st">※</span>X<span class="st">※</span></div>
<div class="t " style="left:392.20px;text-align:left;top:576.85px;font-size:14.5px;letter-spacing:-0.45px;">DSG<span class="h">-</span><span class="d" style="margin:0 -0.92px">01</span><span class="h">-</span><span class="st">※</span><span class="st">※</span><span class="st">※</span><span class="h">-</span><span class="st">※</span><span class="st">※</span>Y<span class="st">※</span></div>
<div class="t " style="left:392.20px;text-align:left;top:598.85px;font-size:14.5px;letter-spacing:-0.45px;">DSG<span class="h">-</span><span class="d" style="margin:0 -0.92px">03</span><span class="h">-</span><span class="st">※</span><span class="st">※</span><span class="st">※</span><span class="h">-</span><span class="st">※</span><span class="st">※</span>Y<span class="st">※</span></div>
<div class="t " style="left:243.60px;width:400px;text-align:right;top:861.00px;font-size:14px;">DHG<span class="h">-</span><span class="d" style="margin:0 -0.92px">04</span></div>
<div class="t " style="left:513.50px;width:300px;text-align:center;top:861.00px;font-size:14px;">06</div>
<div class="t " style="left:546.60px;width:300px;text-align:center;top:861.00px;font-size:14px;">10</div>
<div class="t cj2" style="left:392.20px;text-align:left;top:899.60px;font-size:14px;"><span class="zh">螺纹连接型</span><span class="pl">(</span>DMT<span class="pr">)</span></div>
<div class="t " style="left:433.50px;width:300px;text-align:center;top:899.60px;font-size:14px;">03</div>
<div class="t " style="left:472.70px;width:300px;text-align:center;top:899.60px;font-size:14px;">06</div>
<div class="t " style="left:512.00px;width:300px;text-align:center;top:899.60px;font-size:14px;">10</div>
<div class="t cj2" style="left:392.20px;text-align:left;top:923.00px;font-size:14px;"><span class="zh">底板安装型</span><span class="pl">(</span>DMG<span class="pr">)</span></div>
<div class="t " style="left:400.60px;width:300px;text-align:center;top:923.00px;font-size:14px;">01</div>
<div class="t " style="left:433.20px;width:300px;text-align:center;top:923.00px;font-size:14px;">03</div>
<div class="t " style="left:468.60px;width:300px;text-align:center;top:923.00px;font-size:14px;">04</div>
<div class="t " style="left:505.20px;width:300px;text-align:center;top:923.00px;font-size:14px;">06</div>
<div class="t " style="left:545.30px;width:300px;text-align:center;top:923.00px;font-size:14px;">10</div>
<div class="t cj2" style="left:392.20px;text-align:left;top:955.50px;font-size:14px;"><span class="zh">转阀型</span><span class="pl">(</span>DR<span class="fr"><span>T</span><span>G</span></span><span class="pr">)</span><span style="margin-left:9px">02</span></div>
<div class="t cj2" style="left:392.20px;text-align:left;top:989.50px;font-size:14px;"><span class="zh">凸轮操纵型</span><span class="pl">(</span>DC<span class="fr"><span>T</span><span>G</span></span><span class="pr">)</span></div>
<div class="t " style="left:379.50px;width:300px;text-align:center;top:989.50px;font-size:14px;">01</div>
<div class="t " style="left:422.00px;width:300px;text-align:center;top:989.50px;font-size:14px;">03</div>
</body></html>
